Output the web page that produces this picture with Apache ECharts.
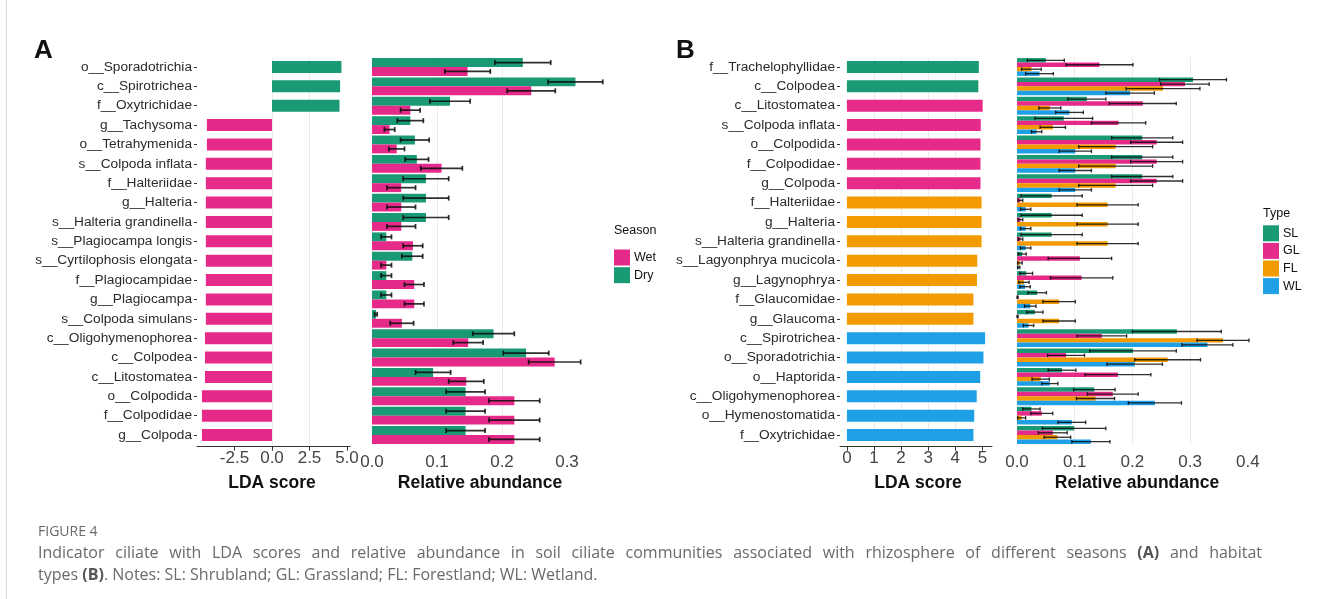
<!DOCTYPE html>
<html>
<head>
<meta charset="utf-8">
<script src="https://cdn.jsdelivr.net/npm/echarts@6/dist/echarts.min.js"></script>
<style>
  html, body { margin: 0; padding: 0; background: #fff; }
  #wrap { position: relative; width: 1329px; height: 599px; overflow: hidden; }
  #chart { position: absolute; left: 0; top: 0; width: 1329px; height: 599px; }
  #caption { position: absolute; left: 38px; top: 521px; font-family: 'Open Sans', 'Noto Sans', sans-serif; color: #6a6a6a; white-space: nowrap; }
  #caption .fig { font-size: 14px; line-height: 20px; }
  #caption .txt { font-size: 16px; line-height: 22px; }
  #caption .line1 { display: block; width: 1224px; text-align: justify; text-align-last: justify; white-space: normal; }
  #caption b { font-weight: 700; color: #555; }
</style>
</head>
<body>
<div id="wrap">
  <div id="chart"></div>
  <div id="caption">
    <div class="fig">FIGURE 4</div>
    <div class="txt"><span class="line1">Indicator ciliate with LDA scores and relative abundance in soil ciliate communities associated with rhizosphere of different seasons <b>(A)</b> and habitat</span>types <b>(B)</b>. Notes: SL: Shrubland; GL: Grassland; FL: Forestland; WL: Wetland.</div>
  </div>
</div>
<script>
// ---------- Panel A: seasons ----------
const taxaA = [
  'o__Sporadotrichia', 'c__Spirotrichea', 'f__Oxytrichidae', 'g__Tachysoma',
  'o__Tetrahymenida', 's__Colpoda inflata', 'f__Halteriidae', 'g__Halteria',
  's__Halteria grandinella', 's__Plagiocampa longis', 's__Cyrtilophosis elongata',
  'f__Plagiocampidae', 'g__Plagiocampa', 's__Colpoda simulans',
  'c__Oligohymenophorea', 'c__Colpodea', 'c__Litostomatea', 'o__Colpodida',
  'f__Colpodidae', 'g__Colpoda'
];
const ldaGroupA = ['Dry', 'Dry', 'Dry', 'Wet', 'Wet', 'Wet', 'Wet', 'Wet', 'Wet', 'Wet',
  'Wet', 'Wet', 'Wet', 'Wet', 'Wet', 'Wet', 'Wet', 'Wet', 'Wet', 'Wet'];
const ldaA = [4.63, 4.54, 4.50, -4.34, -4.34, -4.41, -4.41, -4.41, -4.41, -4.41,
  -4.41, -4.41, -4.41, -4.41, -4.47, -4.47, -4.47, -4.67, -4.67, -4.67];
const dryA = [0.232, 0.313, 0.120, 0.059, 0.066, 0.069, 0.083, 0.083, 0.083, 0.022,
  0.062, 0.022, 0.022, 0.006, 0.187, 0.237, 0.094, 0.144, 0.144, 0.144];
const dryErrA = [0.043, 0.042, 0.031, 0.020, 0.022, 0.018, 0.035, 0.035, 0.035, 0.008,
  0.016, 0.008, 0.008, 0.002, 0.032, 0.035, 0.027, 0.030, 0.030, 0.030];
const wetA = [0.147, 0.245, 0.059, 0.027, 0.038, 0.107, 0.045, 0.045, 0.045, 0.063,
  0.022, 0.065, 0.065, 0.046, 0.148, 0.281, 0.145, 0.219, 0.219, 0.219];
const wetErrA = [0.035, 0.037, 0.015, 0.008, 0.012, 0.032, 0.022, 0.022, 0.022, 0.015,
  0.008, 0.015, 0.015, 0.018, 0.023, 0.040, 0.027, 0.039, 0.039, 0.039];
const seasons = ['Wet', 'Dry'];
const ldaTicksA = [-2.5, 0, 2.5, 5];
const abundTicksA = [0, 0.1, 0.2, 0.3];

// ---------- Panel B: habitat types ----------
const taxaB = [
  'f__Trachelophyllidae', 'c__Colpodea', 'c__Litostomatea', 's__Colpoda inflata',
  'o__Colpodida', 'f__Colpodidae', 'g__Colpoda', 'f__Halteriidae', 'g__Halteria',
  's__Halteria grandinella', 's__Lagyonphrya mucicola', 'g__Lagynophrya',
  'f__Glaucomidae', 'g__Glaucoma', 'c__Spirotrichea', 'o__Sporadotrichia',
  'o__Haptorida', 'c__Oligohymenophorea', 'o__Hymenostomatida', 'f__Oxytrichidae'
];
const ldaGroupB = ['SL', 'SL', 'GL', 'GL', 'GL', 'GL', 'GL', 'FL', 'FL', 'FL',
  'FL', 'FL', 'FL', 'FL', 'WL', 'WL', 'WL', 'WL', 'WL', 'WL'];
const ldaB = [4.87, 4.85, 5.01, 4.94, 4.93, 4.93, 4.93, 4.97, 4.97, 4.97,
  4.81, 4.80, 4.67, 4.67, 5.10, 5.04, 4.92, 4.79, 4.70, 4.67];
const slB = [0.050, 0.305, 0.121, 0.081, 0.217, 0.217, 0.217, 0.060, 0.060, 0.060,
  0.009, 0.016, 0.035, 0.031, 0.277, 0.201, 0.078, 0.134, 0.025, 0.099];
const slErrB = [0.032, 0.058, 0.033, 0.050, 0.053, 0.053, 0.053, 0.053, 0.053, 0.053,
  0.007, 0.011, 0.016, 0.014, 0.077, 0.075, 0.024, 0.036, 0.015, 0.055];
const glB = [0.143, 0.291, 0.218, 0.176, 0.242, 0.242, 0.242, 0.006, 0.006, 0.006,
  0.109, 0.112, 0.001, 0.001, 0.147, 0.085, 0.175, 0.166, 0.043, 0.062];
const glErrB = [0.058, 0.042, 0.058, 0.047, 0.045, 0.045, 0.045, 0.004, 0.004, 0.004,
  0.055, 0.054, 0.001, 0.001, 0.043, 0.032, 0.057, 0.044, 0.019, 0.025];
const flB = [0.025, 0.253, 0.057, 0.062, 0.171, 0.171, 0.171, 0.157, 0.157, 0.157,
  0.005, 0.012, 0.073, 0.073, 0.357, 0.261, 0.041, 0.136, 0.008, 0.070];
const flErrB = [0.017, 0.064, 0.019, 0.022, 0.064, 0.064, 0.064, 0.053, 0.053, 0.053,
  0.004, 0.009, 0.028, 0.028, 0.045, 0.057, 0.015, 0.033, 0.007, 0.023];
const wlB = [0.039, 0.196, 0.091, 0.034, 0.101, 0.101, 0.101, 0.015, 0.015, 0.015,
  0.003, 0.014, 0.023, 0.020, 0.330, 0.204, 0.057, 0.239, 0.095, 0.128];
const wlErrB = [0.024, 0.042, 0.024, 0.009, 0.028, 0.028, 0.028, 0.009, 0.009, 0.009,
  0.002, 0.009, 0.010, 0.009, 0.044, 0.048, 0.014, 0.046, 0.024, 0.033];
const types = ['SL', 'GL', 'FL', 'WL'];
const ldaTicksB = [0, 1, 2, 3, 4, 5];
const abundTicksB = [0, 0.1, 0.2, 0.3, 0.4];

// ---------- styling ----------
const COLORS = { Dry: '#1a9a74', Wet: '#e62a8a', SL: '#1a9a74', GL: '#e62a8a', FL: '#f39a00', WL: '#1f9fe5' };
const FONT = "'Liberation Sans', Arial, Helvetica, sans-serif";
const GRID_TOP = 57.3, GRID_H = 387.4;
const CAT_GAP = 0.08;
const GRID_COLOR = '#ebebeb';

const chart = echarts.init(document.getElementById('chart'), null, { renderer: 'canvas' });

function xAxisCfg(gridIndex, min, max, interval, ticks, fmt, withLine) {
  const cfg = {
    type: 'value', gridIndex, min, max,
    offset: withLine ? 2 : 0,
    axisLine: { show: withLine, onZero: false, lineStyle: { color: '#333', width: 1 } },
    axisTick: { show: withLine, customValues: ticks, length: 4, lineStyle: { color: '#333', width: 1 } },
    axisLabel: {
      customValues: ticks, fontFamily: FONT, fontSize: 17, color: '#444',
      margin: withLine ? 3 : 9, formatter: fmt
    },
    splitLine: { show: true, showMinLine: false, showMaxLine: false, lineStyle: { color: GRID_COLOR, width: 1 } }
  };
  if (interval != null) cfg.interval = interval;
  return cfg;
}

function yAxisCfg(gridIndex, data, show) {
  return {
    type: 'category', gridIndex, data, inverse: true, show,
    axisLine: { show: false, onZero: false },
    axisTick: { show: true, alignWithLabel: true, length: 3, lineStyle: { color: '#333' } },
    axisLabel: { fontFamily: FONT, fontSize: 13.7, color: '#2b2b2b', margin: 5 },
    splitLine: { show: false }
  };
}

// Error bar drawn at the end of bar k (of n dodged bars) in a category band
function errorBars(name, axisIdx, values, errs, k, n, lw, cap) {
  return {
    type: 'custom', name, xAxisIndex: axisIdx, yAxisIndex: axisIdx, z: 5,
    silent: true,
    data: values.map((v, i) => [v, i, errs[i]]),
    encode: { x: 0, y: 1 },
    renderItem: function (params, api) {
      const v = api.value(0), ci = api.value(1), e = api.value(2);
      const p1 = api.coord([v - e, ci]);
      const p2 = api.coord([v + e, ci]);
      const band = api.size([0, 1])[1];
      const total = band * (1 - CAT_GAP);
      const bw = total / n;
      const y = p1[1] - total / 2 + bw * (k + 0.5);
      const st = { stroke: 'rgba(10,10,10,0.85)', lineWidth: lw };
      return {
        type: 'group',
        children: [
          { type: 'line', shape: { x1: p1[0], y1: y, x2: p2[0], y2: y }, style: st },
          { type: 'line', shape: { x1: p1[0], y1: y - cap, x2: p1[0], y2: y + cap }, style: st },
          { type: 'line', shape: { x1: p2[0], y1: y - cap, x2: p2[0], y2: y + cap }, style: st }
        ]
      };
    }
  };
}

function groupedBar(name, axisIdx, values) {
  return {
    type: 'bar', name, xAxisIndex: axisIdx, yAxisIndex: axisIdx,
    data: values, barCategoryGap: (CAT_GAP * 100) + '%', barGap: '0%',
    itemStyle: { color: COLORS[name] }, silent: true
  };
}

function ldaBar(axisIdx, values, groups) {
  return {
    type: 'bar', xAxisIndex: axisIdx, yAxisIndex: axisIdx, barWidth: '62%', silent: true,
    data: values.map((v, i) => ({ value: v, itemStyle: { color: COLORS[groups[i]] } }))
  };
}

const axisTitle = (x, text) => ({
  type: 'text', x, y: 483, style: {
    text, font: 'bold 17.5px ' + FONT, fill: '#111', align: 'center', verticalAlign: 'middle'
  }
});
const plainText = (x, y, text, size, weight) => ({
  type: 'text', x, y, style: {
    text, font: (weight || 'normal') + ' ' + size + 'px ' + FONT, fill: '#111',
    align: 'left', verticalAlign: 'middle'
  }
});

const option = {
  backgroundColor: '#fff',
  animation: false,
  grid: [
    { left: 197, top: GRID_TOP, width: 153, height: GRID_H },
    { left: 372, top: GRID_TOP, width: 234, height: GRID_H },
    { left: 840, top: GRID_TOP, width: 152, height: GRID_H },
    { left: 1017, top: GRID_TOP, width: 239.5, height: GRID_H }
  ],
  xAxis: [
    xAxisCfg(0, -5, 5.2, 2.5, ldaTicksA, v => v.toFixed(1), true),
    xAxisCfg(1, 0, 0.36, 0.05, abundTicksA, v => v.toFixed(1), false),
    // expanded range on both sides; nice ticks fall on whole numbers
    xAxisCfg(2, -0.255, 5.355, null, ldaTicksB, v => String(v), true),
    xAxisCfg(3, 0, 0.415, 0.05, abundTicksB, v => v.toFixed(1), false)
  ],
  yAxis: [
    yAxisCfg(0, taxaA, true),
    yAxisCfg(1, taxaA, false),
    yAxisCfg(2, taxaB, true),
    yAxisCfg(3, taxaB, false)
  ],
  legend: [
    {
      data: seasons, orient: 'vertical', left: 614, top: 249.5, icon: 'rect',
      itemWidth: 16, itemHeight: 16, itemGap: 1.7, selectedMode: false,
      textStyle: { fontFamily: FONT, fontSize: 12.5, color: '#111', padding: [0, 0, 0, -1] }, padding: 0
    },
    {
      data: types, orient: 'vertical', left: 1263, top: 225.3, icon: 'rect',
      itemWidth: 16, itemHeight: 16, itemGap: 1.6, selectedMode: false,
      textStyle: { fontFamily: FONT, fontSize: 12.5, color: '#111', padding: [0, 0, 0, -1] }, padding: 0
    }
  ],
  series: [
    ldaBar(0, ldaA, ldaGroupA),
    groupedBar('Dry', 1, dryA),
    groupedBar('Wet', 1, wetA),
    errorBars('errDry', 1, dryA, dryErrA, 0, 2, 1.7, 2.5),
    errorBars('errWet', 1, wetA, wetErrA, 1, 2, 1.7, 2.5),
    ldaBar(2, ldaB, ldaGroupB),
    groupedBar('SL', 3, slB),
    groupedBar('GL', 3, glB),
    groupedBar('FL', 3, flB),
    groupedBar('WL', 3, wlB),
    errorBars('errSL', 3, slB, slErrB, 0, 4, 1.3, 1.8),
    errorBars('errGL', 3, glB, glErrB, 1, 4, 1.3, 1.8),
    errorBars('errFL', 3, flB, flErrB, 2, 4, 1.3, 1.8),
    errorBars('errWL', 3, wlB, wlErrB, 3, 4, 1.3, 1.8)
  ],
  graphic: [
    { type: 'line', shape: { x1: 6.5, y1: 0, x2: 6.5, y2: 599 }, style: { stroke: '#d9d9d9', lineWidth: 1 } },
    plainText(34, 51, 'A', 26, 'bold'),
    plainText(676, 51, 'B', 26, 'bold'),
    axisTitle(272, 'LDA score'),
    axisTitle(480, 'Relative abundance'),
    axisTitle(918, 'LDA score'),
    axisTitle(1137, 'Relative abundance'),
    plainText(614, 231, 'Season', 12.5),
    plainText(1263, 214, 'Type', 12.5)
  ]
};

chart.setOption(option);
</script>
</body>
</html>
